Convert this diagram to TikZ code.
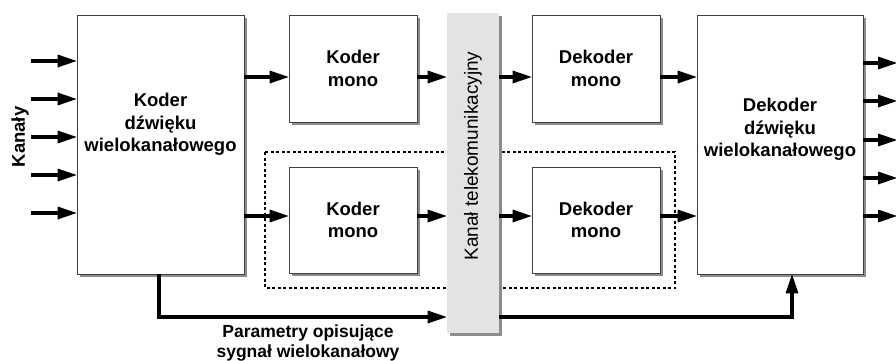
\documentclass[tikz,border=0pt]{standalone}
\usepackage{fontspec}
\setmainfont{Liberation Sans}
\usetikzlibrary{arrows.meta,shadows}
\begin{document}
\begin{tikzpicture}
  [x=1pt,y=-1pt,
   blok/.style=
     {draw=black!75,line width=0.8pt,fill=white,
      drop shadow={shadow xshift=3pt,shadow yshift=-3pt,fill=black!45,opacity=1}},
   opis/.style=
     {font=\fontsize{18.5}{22.5}\selectfont\bfseries,align=center},
   strz/.style=
     {line width=4pt,-{Triangle[length=19pt,width=13pt,line width=0pt]}},
   kropki/.style=
     {line width=1.4pt,dash pattern=on 3pt off 2.5pt}
  ]
  \useasboundingbox (0,0) rectangle (896,361);
  % ramka kropkowana pod kanalem
  \draw[kropki] (265,152) rectangle (675,288);
  \node[blok,minimum width=167pt,minimum height=259pt] (kw) at (160.5,144.5) {};
  \node[opis] (kwtxt) at ([yshift=20pt]kw.center) {Koder\\dźwięku\\wielokanałowego};
  \node[blok,minimum width=128pt,minimum height=107pt] (km1) at (353,68.5) {};
  \node[opis] (km1txt) at (km1.center) {Koder\\mono};
  \node[blok,minimum width=128pt,minimum height=106pt] (km2) at (353,220) {};
  \node[opis] (km2txt) at (km2.center) {Koder\\mono};
  \node[blok,draw=none,fill=black!11,minimum width=52pt,minimum height=320pt] (kanal) at (473,173) {};
  \node[font=\fontsize{19}{22}\selectfont,rotate=90] (kanaltxt) at ([yshift=17pt]kanal.center) {Kanał telekomunikacyjny};
  \node[blok,minimum width=128pt,minimum height=107pt] (dm1) at (596,68.5) {};
  \node[opis] (dm1txt) at (dm1.center) {Dekoder\\mono};
  \node[blok,minimum width=128pt,minimum height=106pt] (dm2) at (596,220) {};
  \node[opis] (dm2txt) at (dm2.center) {Dekoder\\mono};
  \node[blok,minimum width=166pt,minimum height=259pt] (dw) at (780,144.5) {};
  \node[opis] (dwtxt) at ([yshift=15pt]dw.center) {Dekoder\\dźwięku\\wielokanałowego};
  % wejscia i wyjscia
  \node[opis,rotate=90] (kanaly) at (20,137) {Kanały};
  \foreach \y [count=\i] in {61,99,137,175,213}
  {
    \coordinate (we\i) at (31,\y);
    \draw[strz] (we\i) -- (we\i -| kw.west);
  }
  \foreach \y [count=\i] in {63,101,140,178,216}
  {
    \coordinate (wy\i) at (897,\y);
    \draw[strz] (dw.east |- wy\i) -- (wy\i);
  }
  % tory mono
  \draw[strz] (kw.east |- 0,77) -- (km1.west |- 0,77);
  \draw[strz] (km1.east |- 0,77) -- (kanal.west |- 0,77);
  \draw[strz] (kanal.east |- 0,77) -- (dm1.west |- 0,77);
  \draw[strz] (dm1.east |- 0,77) -- (dw.west |- 0,77);
  \draw[strz] (kw.east |- 0,216) -- (km2.west |- 0,216);
  \draw[strz] (km2.east |- 0,216) -- (kanal.west |- 0,216);
  \draw[strz] (kanal.east |- 0,216) -- (dm2.west |- 0,216);
  \draw[strz] (dm2.east |- 0,216) -- (dw.west |- 0,216);
  % parametry
  \draw[strz] (159,0 |- kw.south) |- (kanal.west |- 0,317);
  \draw[strz] (kanal.east |- 0,317) -| (792,0 |- dw.south);
  \node[font=\fontsize{17.5}{20}\selectfont\bfseries,align=center] (param) at (308,343) {Parametry opisujące\\sygnał wielokanałowy};
\end{tikzpicture}
\end{document}
